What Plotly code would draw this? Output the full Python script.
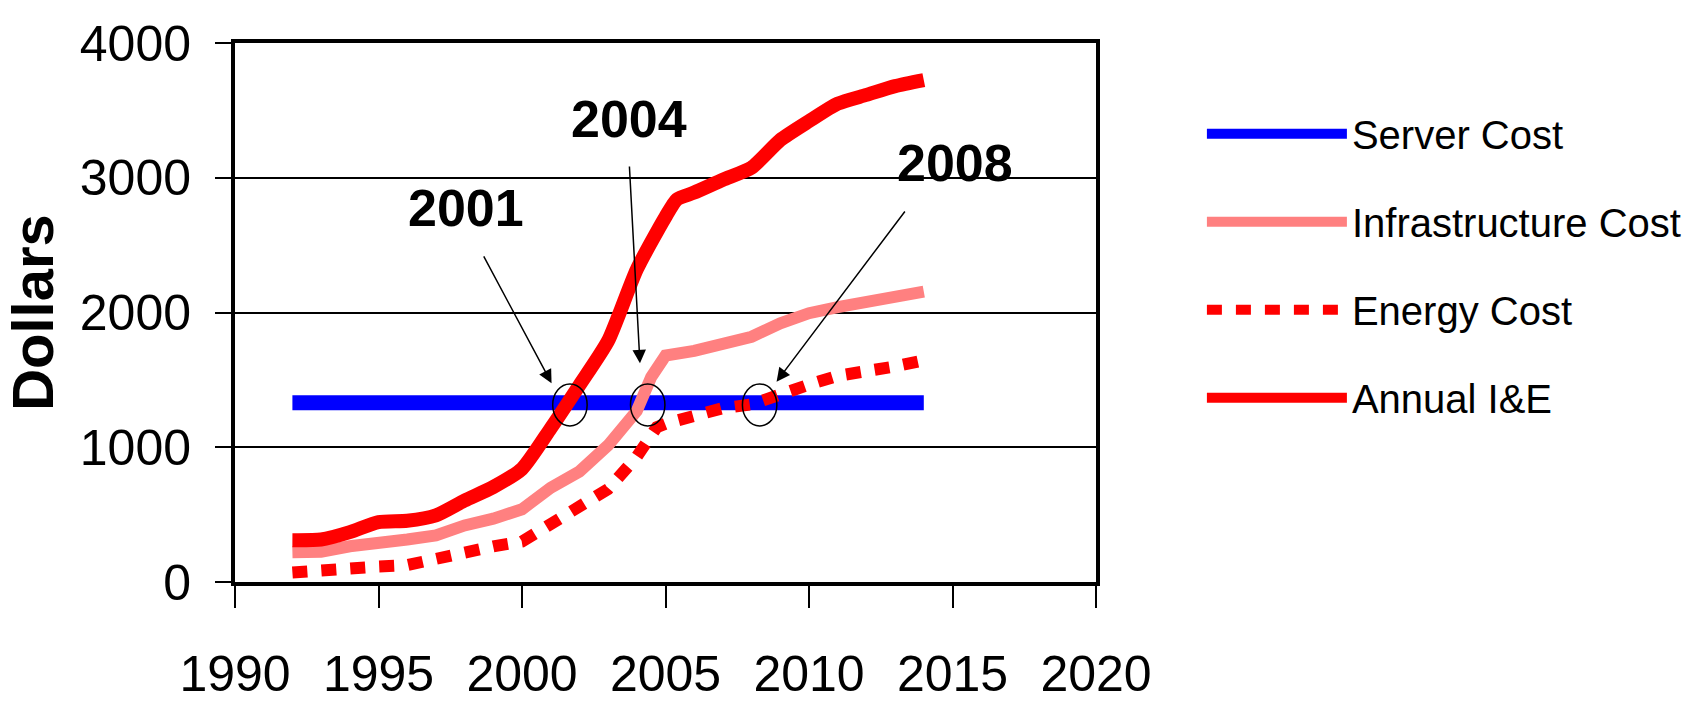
import plotly.graph_objects as go

# ---------------- data ----------------
server_years = [1992, 1993, 1994, 1995, 1996, 1997, 1998, 1999, 2000, 2001, 2002, 2003,
                2004, 2005, 2006, 2007, 2008, 2009, 2010, 2011, 2012, 2013, 2014]
server_cost = [1330, 1330, 1330, 1330, 1330, 1330, 1330, 1330, 1330, 1330, 1330, 1330,
               1330, 1330, 1330, 1330, 1330, 1330, 1330, 1330, 1330, 1330, 1330]

infra_years = [1992, 1993, 1994, 1995, 1996, 1997, 1998, 1999, 2000, 2001, 2002, 2003,
               2004, 2004.5, 2005, 2006, 2007, 2008, 2009, 2010, 2011, 2012, 2013, 2014]
infra_cost = [220, 225, 265, 300, 315, 345, 420, 470, 540, 700, 820, 1015,
              1270, 1520, 1680, 1715, 1760, 1820, 1920, 1995, 2040, 2085, 2120, 2155]

energy_years = [1992, 1993, 1994, 1995, 1996, 1997, 1998, 1999, 2000, 2001, 2002, 2003,
                2004, 2004.7, 2005, 2006, 2007, 2008, 2009, 2010, 2011, 2012, 2013, 2014]
energy_cost = [70, 90, 115, 115, 125, 175, 225, 265, 300, 435, 560, 690,
               930, 1150, 1175, 1230, 1290, 1318, 1380, 1465, 1530, 1555, 1600, 1645]

annual_years = [1992, 1993, 1994, 1995, 1996, 1997, 1998, 1999, 2000, 2001, 2002, 2003,
                2004, 2005, 2005.4, 2006, 2007, 2008, 2009, 2010, 2011, 2012, 2013, 2014]
annual_ie = [310, 315, 370, 445, 455, 495, 605, 705, 840, 1140, 1460, 1790,
             2320, 2710, 2840, 2890, 2985, 3075, 3280, 3420, 3550, 3615, 3680, 3725]

# crossover markers (year, dollars) and their callouts
cross_labels = ["2001", "2004", "2008"]
cross_x = [2001.67, 2004.38, 2008.28]
cross_y = [1314, 1314, 1314]
label_x = [1998.05, 2003.73, 2015.07]
label_y = [2775, 3436, 3109]
arrow_tail_x = [1998.64, 2003.74, 2013.38]
arrow_tail_y = [2427, 3095, 2761]
arrow_tip_x = [2001.03, 2004.11, 2008.87]
arrow_tip_y = [1475, 1623, 1487]

x_ticks = [1990, 1995, 2000, 2005, 2010, 2015, 2020]
y_ticks = [0, 1000, 2000, 3000, 4000]

SANS = "Liberation Sans, Arial, sans-serif"

fig = go.Figure()
fig.add_trace(go.Scatter(x=server_years, y=server_cost, mode="lines", name="Server Cost",
                         legendgroup="a", line=dict(color="#0000FF", width=15)))
fig.add_trace(go.Scatter(x=infra_years, y=infra_cost, mode="lines", name="Infrastructure Cost",
                         legendgroup="b", line=dict(color="#FF8080", width=12)))
fig.add_trace(go.Scatter(x=energy_years, y=energy_cost, mode="lines", name="Energy Cost",
                         legendgroup="c", line=dict(color="#FF0000", width=12, dash="15px,14px")))
fig.add_trace(go.Scatter(x=annual_years, y=annual_ie, mode="lines", name="Annual I&E",
                         legendgroup="d", line=dict(color="#FF0000", width=14, shape="spline", smoothing=0.6)))

shapes = []
for cx, cy in zip(cross_x, cross_y):
    shapes.append(dict(type="circle", xref="x", yref="y", x0=cx - 0.6, x1=cx + 0.6,
                       y0=cy - 156, y1=cy + 156, line=dict(color="black", width=1.5)))

annotations = []
for t, lx, ly in zip(cross_labels, label_x, label_y):
    annotations.append(dict(x=lx, y=ly, xref="x", yref="y", text="<b>" + t + "</b>",
                            showarrow=False, font=dict(family=SANS, size=52, color="black")))
for tx, ty, hx, hy in zip(arrow_tail_x, arrow_tail_y, arrow_tip_x, arrow_tip_y):
    annotations.append(dict(x=hx, y=hy, ax=tx, ay=ty, xref="x", yref="y", axref="x", ayref="y",
                            text="", showarrow=True, arrowhead=2, arrowsize=1.8, arrowwidth=1.5,
                            arrowcolor="black", standoff=0, startstandoff=0))

fig.update_layout(
    width=1688, height=703,
    margin=dict(l=235, r=592, t=43, b=121, autoexpand=False),
    paper_bgcolor="white", plot_bgcolor="white",
    shapes=shapes, annotations=annotations,
    showlegend=True,
    legend=dict(x=1.123, y=0.892, xanchor="left", yanchor="top",
                font=dict(family=SANS, size=40, color="black"),
                itemwidth=140, tracegroupgap=33, bgcolor="rgba(0,0,0,0)",
                traceorder="grouped"),
)
fig.update_xaxes(range=[1990, 2020], tickvals=x_ticks, ticks="outside", ticklen=22, tickwidth=1.5,
                 tickcolor="black", showline=True, linewidth=4, linecolor="black", mirror=True,
                 showgrid=False, zeroline=False, ticklabelstandoff=23, tickangle=0,
                 automargin=False,
                 tickfont=dict(family=SANS, size=50, color="black"))
fig.update_yaxes(range=[0, 4000], tickvals=y_ticks, ticks="outside", ticklen=16, tickwidth=1.5,
                 tickcolor="black", showline=True, linewidth=4, linecolor="black", mirror=True,
                 showgrid=True, gridcolor="black", gridwidth=1.5, zeroline=False,
                 ticklabelstandoff=14, automargin=False,
                 tickfont=dict(family=SANS, size=50, color="black"),
                 title=dict(text="<b>Dollars</b>", standoff=26,
                            font=dict(family=SANS, size=58, color="black")))

fig.write_html("out.html")
